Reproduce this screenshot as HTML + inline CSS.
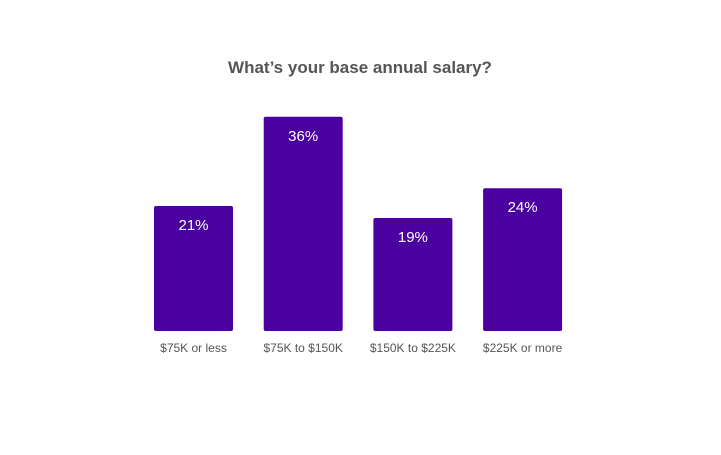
<!DOCTYPE html>
<html><head><meta charset="utf-8"><style>
body{margin:0;background:#fff;}
svg text{font-family:"Liberation Sans",sans-serif;}
</style></head><body>
<svg width="721" height="450" viewBox="0 0 721 450">
<rect width="721" height="450" fill="#fff"/>
<text x="360" y="73" text-anchor="middle" font-size="17" font-weight="bold" fill="#555">What’s your base annual salary?</text>
<g id="bars"></g>
</svg>
<script>
const categories=["$75K or less","$75K to $150K","$150K to $225K","$225K or more"];
const values=[21,36,19,24];
const valueLabels=["21%","36%","19%","24%"];
const baseY=331, pxPerUnit=5.95, x0=154, step=109.7, bw=79;
function yScale(v){return baseY-v*pxPerUnit;}
function xScale(i){return x0+i*step;}
const g=document.getElementById('bars');
const NS="http://www.w3.org/2000/svg";
values.forEach((v,i)=>{
  const r=document.createElementNS(NS,'rect');
  
  
  r.setAttribute('x',xScale(i));r.setAttribute('y',yScale(v));
  r.setAttribute('width',bw);r.setAttribute('height',baseY-yScale(v));
  r.setAttribute('rx',2);r.setAttribute('fill','#4b00a0');
  g.appendChild(r);
  const t=document.createElementNS(NS,'text');
  
  
  t.setAttribute('x',xScale(i)+bw/2);t.setAttribute('y',yScale(v)+24);
  t.setAttribute('text-anchor','middle');t.setAttribute('font-size','15');t.setAttribute('fill','#fff');
  t.textContent=valueLabels[i];g.appendChild(t);
  const c=document.createElementNS(NS,'text');
  
  
  c.setAttribute('x',xScale(i)+bw/2);c.setAttribute('y',352);
  c.setAttribute('text-anchor','middle');c.setAttribute('font-size','12');c.setAttribute('fill','#555');
  c.textContent=categories[i];g.appendChild(c);
});
</script>
</body></html>
